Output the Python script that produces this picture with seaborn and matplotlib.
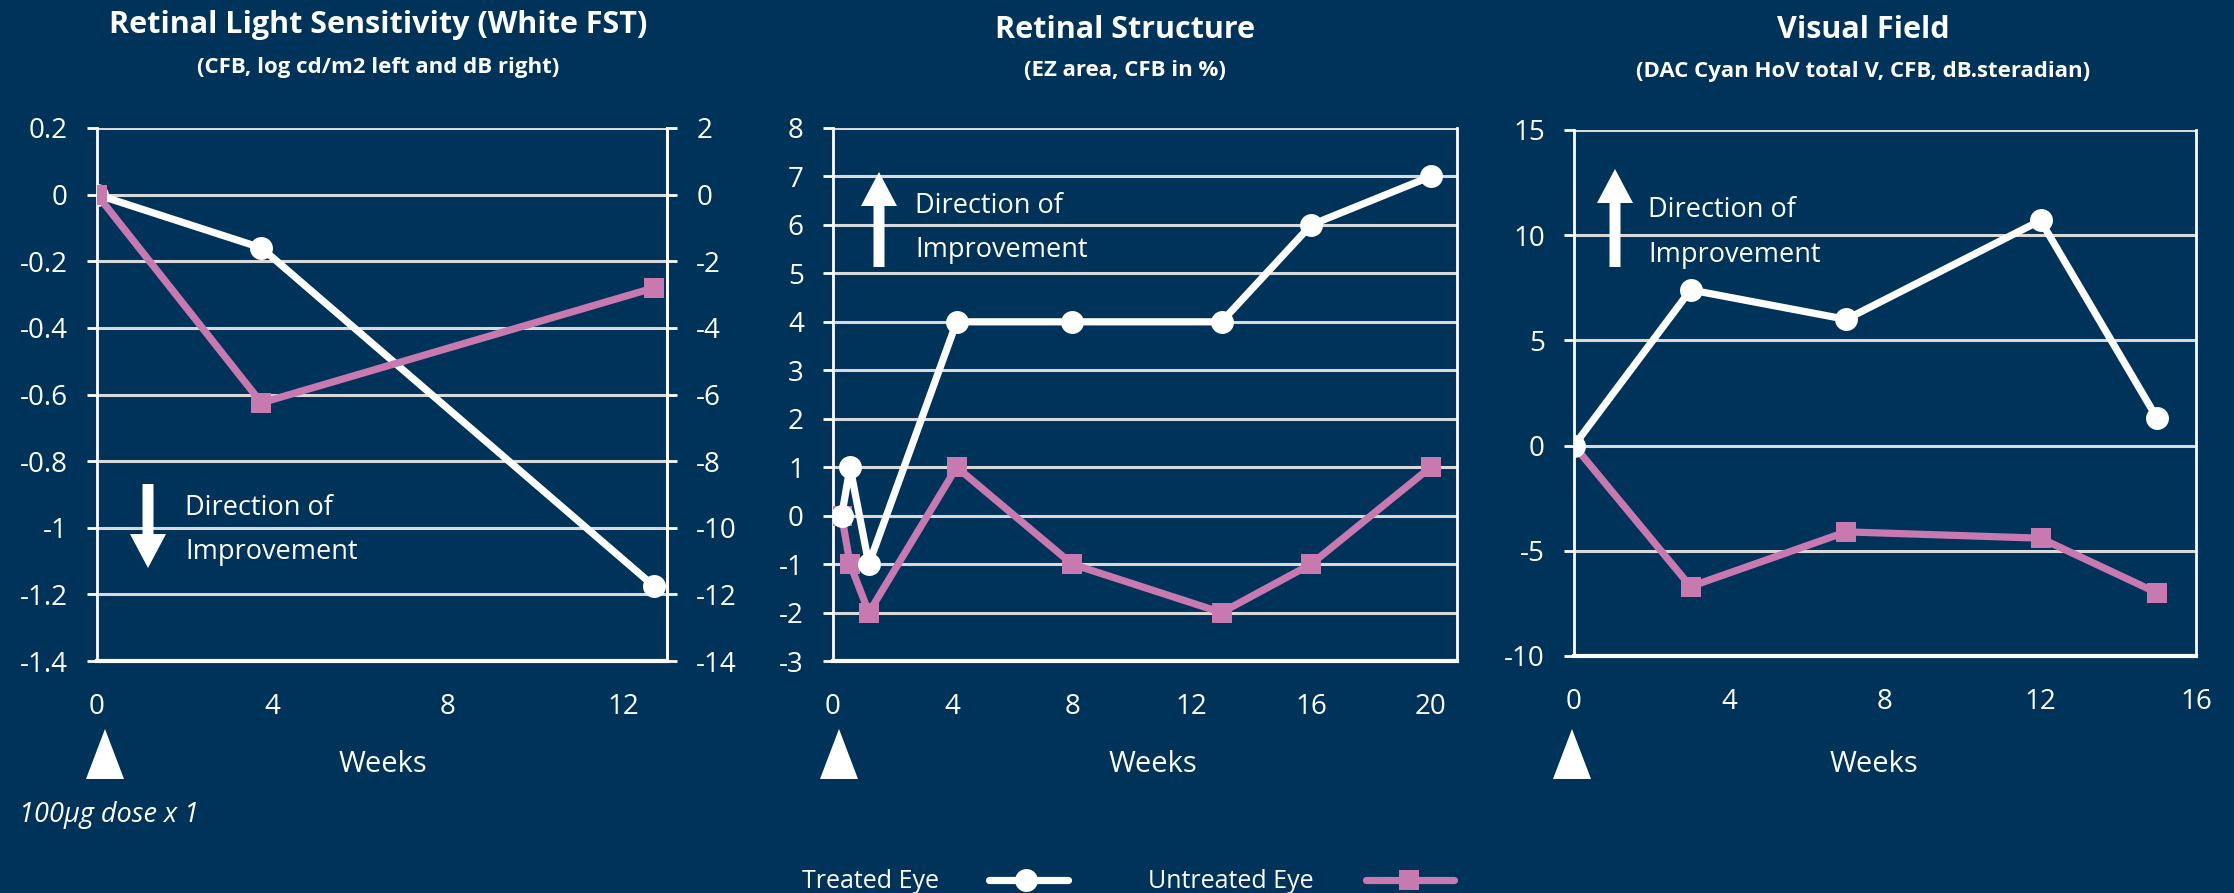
import matplotlib
matplotlib.use("Agg")
import matplotlib.pyplot as plt
from matplotlib.patches import Polygon
from matplotlib.lines import Line2D
import seaborn as sns
import pandas as pd

# ---- data -------------------------------------------------------------
# Retinal light sensitivity (white FST), change from baseline
fst_weeks = [0, 3.75, 12.7]
fst_treated_logcd = [0.0, -0.16, -1.175]     # left axis, log cd/m2
fst_untreated_db = [0.0, -6.25, -2.8]        # right axis, dB

# Retinal structure (EZ area, CFB in %)
ez_weeks = [0.29, 0.57, 1.2, 4.14, 8, 13, 16, 20]
ez_treated = [0, 1, -1, 4, 4, 4, 6, 7]
ez_untreated = [0, -1, -2, 1, -1, -2, -1, 1]

# Visual field (DAC Cyan HoV total V, CFB, dB.steradian)
vf_weeks = [0, 3, 7, 12, 15]
vf_treated = [0.0, 7.4, 6.0, 10.7, 1.3]
vf_untreated = [0.0, -6.7, -4.1, -4.4, -7.0]

titles = ["Retinal Light Sensitivity (White FST)", "Retinal Structure", "Visual Field"]
subtitles = ["(CFB, log cd/m2 left and dB right)", "(EZ area, CFB in %)",
             "(DAC Cyan HoV total V, CFB, dB.steradian)"]
series_names = ["Treated Eye", "Untreated Eye"]

# ---- style ------------------------------------------------------------
NAVY = "#003359"
PINK = "#C879B0"
WHITE = "#FFFFFF"
GRID = "#D9D9D9"
LW = 5.2
CIRCLE = 16.5
SQUARE = 14.5
TICK_FS = 20

sns.set_style("dark")
plt.rcParams["font.family"] = ["Open Sans", "DejaVu Sans"]
plt.rcParams["axes.unicode_minus"] = False

W, H = 2234, 893
fig = plt.figure(figsize=(W / 100, H / 100), dpi=100, facecolor=NAVY)


def rect(left, right, top, bottom):
    return [left / W, 1 - bottom / H, (right - left) / W, (bottom - top) / H]


def style_axes(ax, xlim, xticks, ylim, yticks, right_spine=True):
    ax.set_facecolor(NAVY)
    ax.set_xlim(*xlim)
    ax.set_ylim(*ylim)
    ax.set_xticks(xticks)
    ax.set_yticks(yticks)
    ax.set_yticklabels([f"{t:g}" for t in yticks])
    ax.grid(False)
    for t in yticks:
        ax.axhline(t, color=GRID, lw=2.2, zorder=1)
    ax.spines["top"].set_visible(False)
    ax.spines["left"].set_color(WHITE)
    ax.spines["left"].set_linewidth(2)
    ax.spines["bottom"].set_color(WHITE)
    ax.spines["bottom"].set_linewidth(3)
    ax.spines["bottom"].set_zorder(2)
    ax.spines["right"].set_visible(right_spine)
    ax.spines["right"].set_color(WHITE)
    ax.spines["right"].set_linewidth(2)
    ax.tick_params(axis="both", colors=WHITE, labelcolor=WHITE, labelsize=TICK_FS,
                   direction="out", length=7, width=2)
    ax.tick_params(axis="x", length=8, pad=15)
    ax.tick_params(axis="y", pad=14, left=True)
    ax.set_xlabel("")
    ax.set_ylabel("")


def draw_series(ax, x, y, color, marker, size):
    df = pd.DataFrame({"week": x, "value": y})
    sns.lineplot(data=df, x="week", y="value", ax=ax, color=color, marker=marker,
                 markersize=size, markeredgewidth=0, linewidth=LW, zorder=5,
                 legend=False)


# Panel 1: two y scales
ax1 = fig.add_axes(rect(97, 667, 128, 661))
ax1.patch.set_alpha(0)
draw_series(ax1, fst_weeks, fst_treated_logcd, WHITE, "o", CIRCLE)
style_axes(ax1, (0, 13), [0, 4, 8, 12], (-1.4, 0.2),
           [0.2, 0, -0.2, -0.4, -0.6, -0.8, -1, -1.2, -1.4])
ax1r = ax1.twinx()
draw_series(ax1r, fst_weeks, fst_untreated_db, PINK, "s", SQUARE)
ax1r.set_ylim(-14, 2)
ax1r.set_yticks(list(range(2, -15, -2)))
ax1r.set_yticklabels([f"{t:g}" for t in range(2, -15, -2)])
ax1r.grid(False)
for side in ("top", "left", "bottom"):
    ax1r.spines[side].set_visible(False)
ax1r.spines["right"].set_color(WHITE)
ax1r.spines["right"].set_linewidth(2)
ax1r.tick_params(axis="y", colors=WHITE, labelcolor=WHITE, labelsize=TICK_FS,
                 direction="out", length=7, width=2, pad=14, right=True)
ax1r.set_ylabel("")

# Panel 2
ax2 = fig.add_axes(rect(833, 1457, 128, 661))
draw_series(ax2, ez_weeks, ez_untreated, PINK, "s", SQUARE)
draw_series(ax2, ez_weeks, ez_treated, WHITE, "o", CIRCLE)
style_axes(ax2, (0, 20.88), [0, 4, 8, 12, 16, 20], (-3, 8), list(range(8, -4, -1)))

# Panel 3
ax3 = fig.add_axes(rect(1574, 2196, 130, 656))
draw_series(ax3, vf_weeks, vf_untreated, PINK, "s", SQUARE)
draw_series(ax3, vf_weeks, vf_treated, WHITE, "o", CIRCLE)
style_axes(ax3, (0, 16), [0, 4, 8, 12, 16], (-10, 15), [15, 10, 5, 0, -5, -10])

# ---- annotations in pixel space -----------------------------------------
ov = fig.add_axes([0, 0, 1, 1], zorder=10)
ov.set_xlim(0, W)
ov.set_ylim(H, 0)
ov.axis("off")
ov.patch.set_alpha(0)

title_pos = [(378, 25, 68), (1125, 30, 70), (1863, 30, 72)]
for (cx, ty, sy), t, s in zip(title_pos, titles, subtitles):
    ov.text(cx, ty, t, color=WHITE, fontsize=22, fontweight="bold",
            ha="center", va="center")
    ov.text(cx, sy, s, color=WHITE, fontsize=16, fontweight="bold",
            ha="center", va="center")


def arrow(x, tip, tail, up):
    shaft, head_w, head_l = 11, 36, 34
    d = 1 if up else -1
    neck = tip + d * head_l
    pts = [(x - shaft / 2, tail), (x - shaft / 2, neck), (x - head_w / 2, neck),
           (x, tip), (x + head_w / 2, neck), (x + shaft / 2, neck),
           (x + shaft / 2, tail)]
    ov.add_patch(Polygon(pts, closed=True, color=WHITE, lw=0))


arrow(148, 568, 484, up=False)
arrow(879, 172, 267, up=True)
arrow(1615, 169, 267, up=True)

for x, y1, y2 in [(185, 508, 552), (915, 206, 250), (1648, 210, 255)]:
    ov.text(x, y1, "Direction of", color=WHITE, fontsize=19.5, ha="left", va="center")
    ov.text(x, y2, "Improvement", color=WHITE, fontsize=19.5, ha="left", va="center")

for cx in (383, 1153, 1874):
    ov.text(cx, 765, "Weeks", color=WHITE, fontsize=21, ha="center", va="center")

for cx in (105, 839, 1572):
    ov.add_patch(Polygon([(cx - 19, 779), (cx, 729), (cx + 19, 779)],
                         closed=True, color=WHITE, lw=0))

ov.text(19, 815, "100µg dose x 1", color=WHITE, fontsize=19.5, style="italic",
        ha="left", va="center")

# legend row
ov.text(802, 882, series_names[0], color=WHITE, fontsize=18, ha="left", va="center")
ov.add_line(Line2D([989, 1068], [880, 880], color=WHITE, lw=LW))
ov.add_line(Line2D([1026], [880], color=WHITE, marker="o", markersize=CIRCLE,
                   markeredgewidth=0, lw=0))
ov.text(1148, 882, series_names[1], color=WHITE, fontsize=18, ha="left", va="center")
ov.add_line(Line2D([1366, 1454], [880, 880], color=PINK, lw=LW))
ov.add_line(Line2D([1409], [880], color=PINK, marker="s", markersize=SQUARE,
                   markeredgewidth=0, lw=0))

fig.savefig("out.png", dpi=100, facecolor=NAVY)
